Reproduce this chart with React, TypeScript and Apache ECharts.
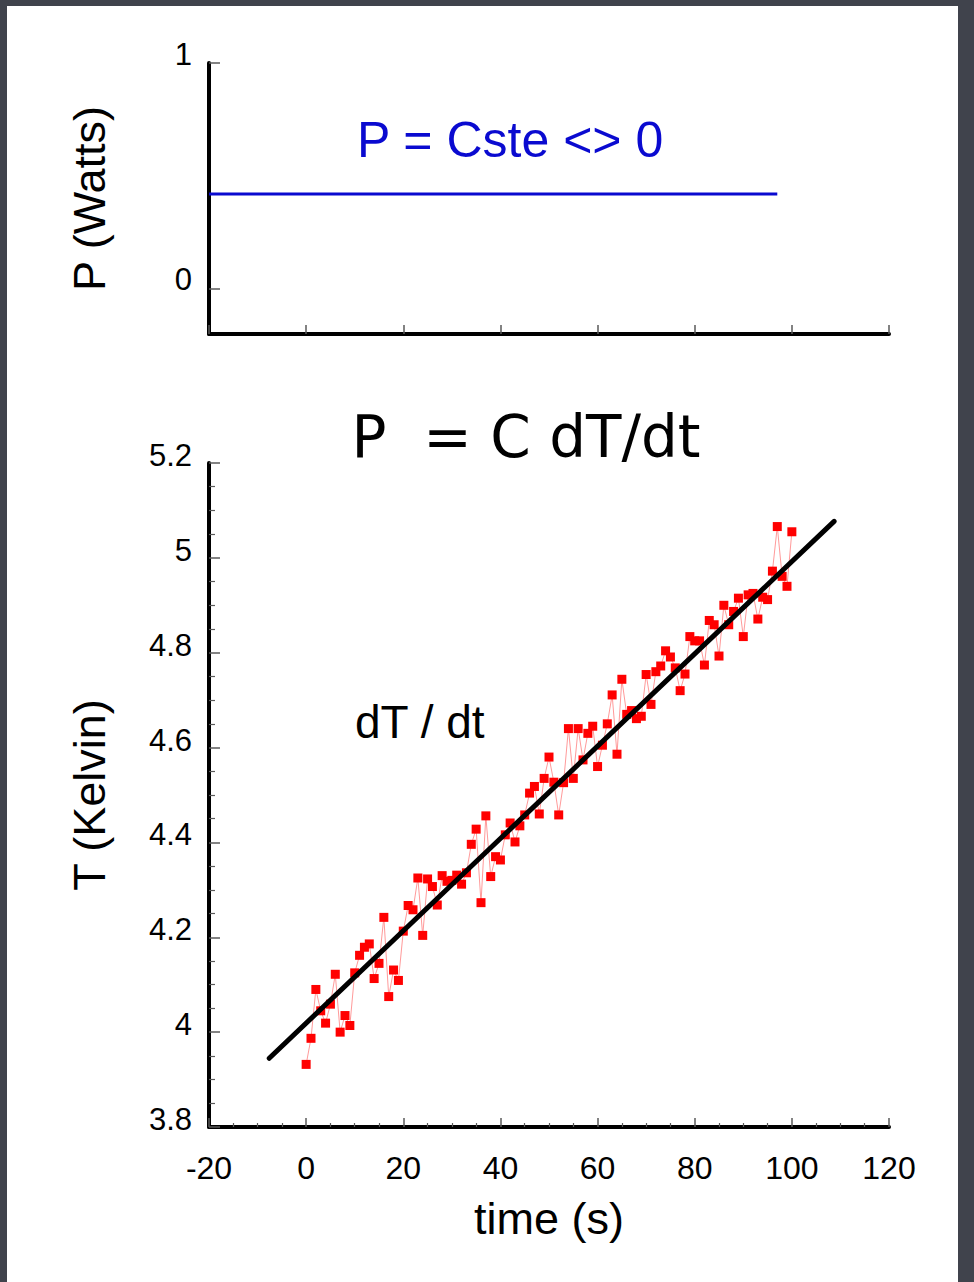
import React, { useEffect, useRef } from "react";
import * as echarts from "echarts";

// ---- data ----
const timeS = [
  0, 1, 2, 3, 4, 5, 6, 7, 8, 9, 10, 11, 12, 13, 14, 15, 16, 17, 18, 19, 20,
  21, 22, 23, 24, 25, 26, 27, 28, 29, 30, 31, 32, 33, 34, 35, 36, 37, 38, 39, 40,
  41, 42, 43, 44, 45, 46, 47, 48, 49, 50, 51, 52, 53, 54, 55, 56, 57, 58, 59, 60,
  61, 62, 63, 64, 65, 66, 67, 68, 69, 70, 71, 72, 73, 74, 75, 76, 77, 78, 79, 80,
  81, 82, 83, 84, 85, 86, 87, 88, 89, 90, 91, 92, 93, 94, 95, 96, 97, 98, 99, 100,
];
const temperatureK = [
  3.932, 3.987, 4.09, 4.045, 4.019, 4.059, 4.122, 4.0, 4.035, 4.014, 4.125,
  4.162, 4.179, 4.186, 4.113, 4.145, 4.242, 4.075, 4.131, 4.109, 4.213,
  4.267, 4.258, 4.325, 4.204, 4.323, 4.307, 4.268, 4.33, 4.318, 4.32,
  4.331, 4.312, 4.336, 4.396, 4.428, 4.273, 4.456, 4.328, 4.37, 4.363,
  4.416, 4.441, 4.401, 4.435, 4.458, 4.504, 4.518, 4.46, 4.535, 4.58,
  4.527, 4.458, 4.526, 4.64, 4.535, 4.64, 4.574, 4.63, 4.645, 4.56,
  4.605, 4.65, 4.711, 4.586, 4.744, 4.67, 4.678, 4.661, 4.666, 4.754,
  4.691, 4.76, 4.772, 4.804, 4.791, 4.768, 4.72, 4.755, 4.834, 4.825,
  4.825, 4.774, 4.868, 4.859, 4.793, 4.9, 4.859, 4.887, 4.915, 4.834,
  4.922, 4.925, 4.871, 4.917, 4.912, 4.972, 5.066, 4.961, 4.94, 5.055,
];
const fitTime = [-7.6, 108.7];
const fitTemp = [3.945, 5.077];
const powerTime = [-20, 97];
const powerWatts = [0.42, 0.42];
const powerTickValues = [0, 1];
const timeRange = [-20, 120];
const tempRange = [3.8, 5.2];
const powerRange = [-0.2, 1];

const LAB = "'Liberation Sans', Arial, Helvetica, sans-serif";
const TITLE = "'DejaVu Sans', 'Liberation Sans', sans-serif";
const BLUE = "#0a0ad0";
const TICK = "#5a5a5a";

export default function App() {
  const ref = useRef<HTMLDivElement>(null);

  useEffect(() => {
    const chart = echarts.init(ref.current!, null, { renderer: "svg" });

    const axisLine = { show: true, onZero: false, lineStyle: { color: "#000", width: 4 } };

    const option: any = {
      animation: false,
      backgroundColor: "transparent",
      grid: [
        { left: 209, top: 63, width: 680, height: 271 },
        { left: 209, top: 463, width: 680, height: 664 },
      ],
      xAxis: [
        {
          gridIndex: 0,
          type: "value",
          min: timeRange[0],
          max: timeRange[1],
          interval: 20,
          axisLine,
          axisTick: { show: true, inside: true, length: 9, lineStyle: { color: TICK, width: 1.5 } },
          axisLabel: { show: false },
          splitLine: { show: false },
        },
        {
          gridIndex: 1,
          type: "value",
          min: timeRange[0],
          max: timeRange[1],
          interval: 20,
          axisLine,
          axisTick: { show: true, inside: true, length: 9, lineStyle: { color: TICK, width: 1.5 } },
          minorTick: { show: true, splitNumber: 4, length: 4, lineStyle: { color: TICK, width: 1.2 } },
          axisLabel: { fontSize: 32, lineHeight: 32, margin: 25, color: "#000", fontFamily: LAB },
          splitLine: { show: false },
          name: "time (s)",
          nameLocation: "middle",
          nameGap: 66,
          nameTextStyle: { fontSize: 45, lineHeight: 50, color: "#000", fontFamily: LAB },
        },
      ],
      yAxis: [
        {
          gridIndex: 0,
          type: "value",
          min: powerRange[0],
          max: powerRange[1],
          axisLine,
          axisTick: {
            show: true,
            inside: true,
            length: 11,
            customValues: powerTickValues,
            lineStyle: { color: TICK, width: 1.5 },
          },
          axisLabel: {
            customValues: powerTickValues,
            fontSize: 31,
            lineHeight: 18,
            margin: 17,
            color: "#000",
            fontFamily: LAB,
            verticalAlign: "bottom",
          },
          splitLine: { show: false },
          name: "P (Watts)",
          nameLocation: "middle",
          nameGap: 97,
          nameTextStyle: { fontSize: 45, color: "#000", fontFamily: LAB },
        },
        {
          gridIndex: 1,
          type: "value",
          min: tempRange[0],
          max: tempRange[1],
          interval: 0.2,
          axisLine,
          axisTick: { show: true, inside: true, length: 11, lineStyle: { color: TICK, width: 1.5 } },
          minorTick: { show: true, splitNumber: 4, length: 6, lineStyle: { color: TICK, width: 1.2 } },
          axisLabel: {
            fontSize: 31,
            lineHeight: 15,
            margin: 17,
            color: "#000",
            fontFamily: LAB,
            verticalAlign: "bottom",
          },
          splitLine: { show: false },
          name: "T (Kelvin)",
          nameLocation: "middle",
          nameGap: 97,
          nameTextStyle: { fontSize: 45, color: "#000", fontFamily: LAB },
        },
      ],
      graphic: [
        {
          type: "text",
          x: 526,
          y: 437,
          style: {
            text: "P  = C dT/dt",
            fontSize: 58,
            fontFamily: TITLE,
            fill: "#000",
            align: "center",
            verticalAlign: "middle",
          },
        },
        {
          type: "text",
          x: 357,
          y: 140,
          style: {
            text: "P = Cste <> 0",
            fontSize: 50,
            fontFamily: LAB,
            fill: BLUE,
            align: "left",
            verticalAlign: "middle",
          },
        },
        {
          type: "text",
          x: 355,
          y: 722,
          style: {
            text: "dT / dt",
            fontSize: 46,
            fontFamily: LAB,
            fill: "#000",
            align: "left",
            verticalAlign: "middle",
          },
        },
      ],
      series: [
        {
          name: "P",
          type: "line",
          xAxisIndex: 0,
          yAxisIndex: 0,
          data: powerTime.map((t, i) => [t, powerWatts[i]]),
          symbol: "none",
          lineStyle: { color: BLUE, width: 3 },
        },
        {
          name: "T",
          type: "line",
          xAxisIndex: 1,
          yAxisIndex: 1,
          data: timeS.map((t, i) => [t, temperatureK[i]]),
          symbol: "rect",
          symbolSize: 9,
          itemStyle: { color: "#ff0000" },
          lineStyle: { color: "#ff9a9a", width: 1 },
          z: 3,
        },
        {
          name: "fit",
          type: "line",
          xAxisIndex: 1,
          yAxisIndex: 1,
          data: fitTime.map((t, i) => [t, fitTemp[i]]),
          symbol: "none",
          lineStyle: { color: "#000", width: 5, cap: "round" },
          z: 4,
        },
      ],
    };

    chart.setOption(option);
    return () => chart.dispose();
  }, []);

  return (
    <div
      style={{
        position: "absolute",
        left: 0,
        top: 0,
        width: 974,
        height: 1282,
        background: "#40434c",
        overflow: "hidden",
      }}
    >
      <div
        style={{ position: "absolute", left: 7, top: 6, width: 951, height: 1276, background: "#fff" }}
      />
      <div ref={ref} style={{ position: "absolute", left: 0, top: 0, width: 974, height: 1282 }} />
    </div>
  );
}
